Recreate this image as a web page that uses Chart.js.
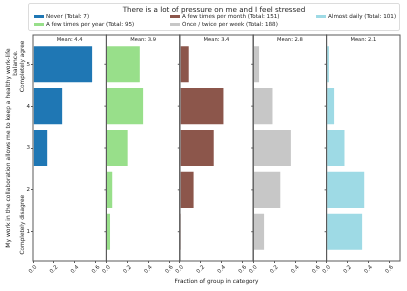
<!DOCTYPE html>
<html>
<head>
<meta charset="utf-8">
<script src="https://cdn.jsdelivr.net/npm/chart.js@4.4.1/dist/chart.umd.min.js"></script>
<style>
  body { margin: 0; background: #fff; font-family: "DejaVu Sans", sans-serif; }
  #wrap { position: relative; width: 407px; height: 291px; overflow: hidden; }
  #chart { position: absolute; left: 0; top: 0; }
  #legend { position: absolute; left: 28px; top: 3px; width: 370px; height: 26px;
            border: 1px solid #dcdcdc; border-radius: 2px; color: #222; }
  #legend .title { position: absolute; left: 0; right: 0; top: 1px; text-align: center;
                   font-size: 7.2px; line-height: 9px; }
  #legend .item { position: absolute; font-size: 5.6px; line-height: 7px; white-space: nowrap; }
  #legend .sw { position: absolute; width: 10px; height: 3.5px; left: -12.5px; top: 1.8px; }
</style>
</head>
<body>
<div id="wrap">
  <canvas id="chart" width="407" height="291"></canvas>
  <div id="legend"><div class="title">There is a lot of pressure on me and I feel stressed</div></div>
</div>
<script>
  var answers = [1, 2, 3, 4, 5];
  var groups = ["Never", "A few times per year", "A few times per month", "Once / twice per week", "Almost daily"];
  var totals = [7, 95, 151, 188, 101];
  // number of answers 1..5 in each group
  var never = [0, 0, 1, 2, 4];
  var perYear = [4, 6, 20, 34, 31];
  var perMonth = [2, 21, 50, 64, 14];
  var perWeek = [21, 50, 69, 36, 12];
  var daily = [35, 37, 18, 8, 3];
  var xTicks = [0.0, 0.2, 0.4, 0.6];
  var colors = ["#1f77b4", "#98df8a", "#8c564b", "#c7c7c7", "#9edae5"];

  var counts = [never, perYear, perMonth, perWeek, daily];
  var font = "DejaVu Sans";

  function mean(list, total){
    var s = 0;
    for (var k = 0; k < list.length; k++) { s += answers[k] * list[k]; }
    return s / total;
  }

  // legend, filled column by column like the original
  var legendPos = [[17, 9], [17, 17], [153, 9], [153, 17], [299, 9]];
  var legend = document.getElementById("legend");
  groups.forEach(function(g, i){
    var item = document.createElement("div");
    item.className = "item";
    item.style.left = legendPos[i][0] + "px";
    item.style.top = legendPos[i][1] + "px";
    var sw = document.createElement("span");
    sw.className = "sw";
    sw.style.background = colors[i];
    item.appendChild(sw);
    item.appendChild(document.createTextNode(g + " (Total: " + totals[i] + ")"));
    legend.appendChild(item);
  });

  var panelPlugin = {
    id: "panels",
    afterDatasetsDraw: function(chart){
      var ctx = chart.ctx, area = chart.chartArea, y = chart.scales.y;
      ctx.save();
      ctx.strokeStyle = "#5a5a5a";
      ctx.lineWidth = 1;
      ctx.fillStyle = "#222";
      ctx.textAlign = "center";
      ctx.textBaseline = "middle";
      groups.forEach(function(g, i){
        var xs = chart.scales["x" + i];
        ctx.strokeRect(xs.left, area.top, xs.right - xs.left, area.bottom - area.top);
        if (i > 0) {
          answers.forEach(function(a){
            var py = y.getPixelForValue(a);
            ctx.beginPath(); ctx.moveTo(xs.left - 2, py); ctx.lineTo(xs.left, py); ctx.stroke();
          });
        }
        ctx.font = "5.2px '" + font + "'";
        ctx.fillText("Mean: " + mean(counts[i], totals[i]).toFixed(1), (xs.left + xs.right) / 2, area.top + 5);
      });
      // axis texts
      ctx.font = "5.8px '" + font + "'";
      ctx.fillText("Fraction of group in category", (area.left + area.right) / 2, 281);
      function vtext(t, x, yy){
        ctx.save(); ctx.translate(x, yy); ctx.rotate(-Math.PI / 2); ctx.fillText(t, 0, 0); ctx.restore();
      }
      vtext("Completely agree", 22, y.getPixelForValue(5) + 2);
      vtext("Completely disagree", 22, y.getPixelForValue(1) - 7);
      ctx.font = "6px '" + font + "'";
      vtext("My work in the collaboration allows me to keep a healthy work-life", 8, (area.top + area.bottom) / 2);
      vtext("balance.", 15, 63);
      ctx.restore();
    }
  };

  var scales = {
    y: {
      type: "linear", position: "left", min: 0.3, max: 5.7, offset: false,
      afterFit: function(s){ s.width = 33; },
      afterBuildTicks: function(s){ s.ticks = answers.map(function(v){ return {value: v}; }); },
      ticks: { font: {family: font, size: 5.5}, color: "#222", padding: 1, autoSkip: false },
      grid: { drawOnChartArea: false, offset: false, tickLength: 2, color: "#5a5a5a" },
      border: { display: false }
    }
  };
  var datasets = [];
  groups.forEach(function(g, i){
    scales["x" + i] = {
      type: "linear", position: "bottom", stack: "panels", stackWeight: 1,
      min: 0, max: 0.7,
      afterBuildTicks: function(s){ s.ticks = xTicks.map(function(v){ return {value: v}; }); },
      afterFit: function(s){ s.height = 20; },
      ticks: { font: {family: font, size: 5.5}, color: "#222", maxRotation: 45, minRotation: 45,
               autoSkip: false, labelOffset: 3, padding: 1,
               callback: function(v){ return v.toFixed(1); } },
      grid: { drawOnChartArea: false, tickLength: 2, color: "#5a5a5a" },
      border: { display: false }
    };
    datasets.push({
      label: g,
      data: answers.map(function(a, k){ return {x: counts[i][k] / totals[i], y: a}; }),
      xAxisID: "x" + i,
      yAxisID: "y",
      backgroundColor: colors[i],
      borderColor: "rgba(255,255,255,0.6)",
      borderWidth: 0.8,
      grouped: false,
      barPercentage: 0.9,
      categoryPercentage: 1
    });
  });

  var chart = new Chart(document.getElementById("chart").getContext("2d"), {
    type: "bar",
    data: { datasets: datasets },
    options: {
      indexAxis: "y",
      responsive: false,
      animation: false,
      layout: { padding: { left: 0, right: 7, top: 35, bottom: 10 } },
      plugins: { legend: { display: false }, tooltip: { enabled: false } },
      scales: scales
    },
    plugins: [panelPlugin]
  });
</script>
</body>
</html>
